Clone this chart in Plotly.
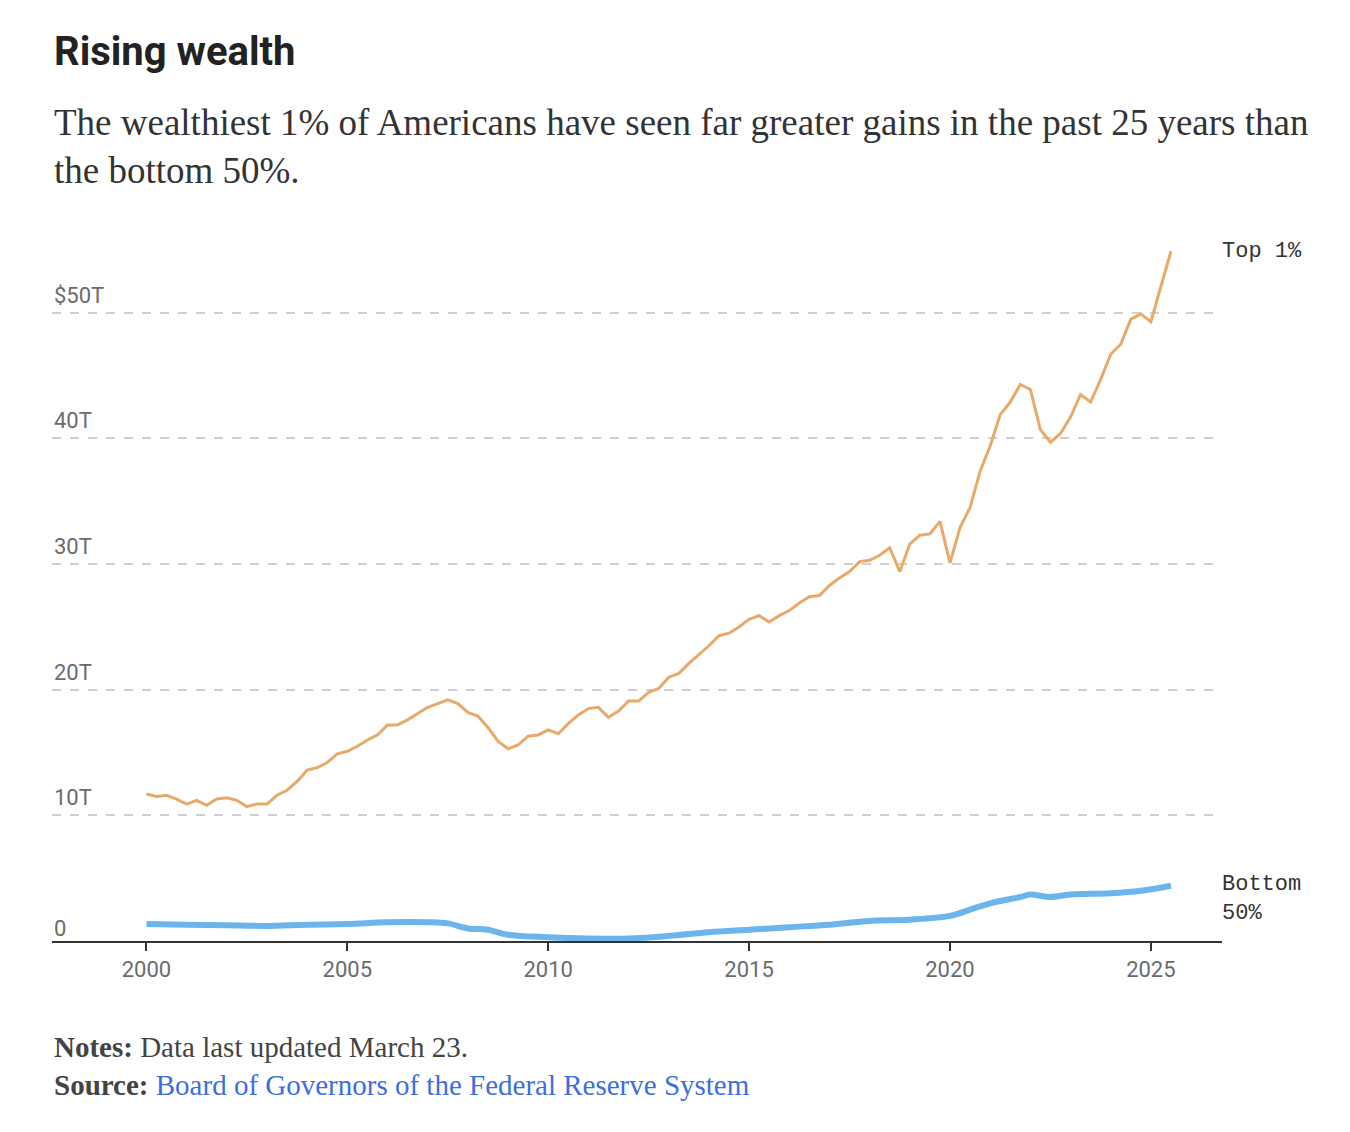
import plotly.graph_objects as go

# Top 1% net worth, trillions of dollars, quarterly 2000 Q1 - 2025 Q3
top_years = [2000 + i * 0.25 for i in range(103)]
top_values = [
    11.7, 11.5, 11.6, 11.3, 10.9, 11.2, 10.8, 11.3, 11.4, 11.2, 10.7, 10.9,
    10.9, 11.6, 12.0, 12.7, 13.6, 13.8, 14.2, 14.9, 15.1, 15.5, 16.0, 16.4,
    17.2, 17.2, 17.6, 18.1, 18.6, 18.9, 19.2, 18.9, 18.2, 17.9, 17.0, 15.9,
    15.3, 15.6, 16.3, 16.4, 16.8, 16.5, 17.3, 18.0, 18.5, 18.6, 17.8, 18.3,
    19.1, 19.1, 19.8, 20.1, 21.0, 21.3, 22.1, 22.8, 23.5, 24.3, 24.5, 25.0,
    25.6, 25.9, 25.4, 25.9, 26.3, 26.9, 27.4, 27.5, 28.3, 28.9, 29.4, 30.2,
    30.3, 30.7, 31.3, 29.4, 31.6, 32.3, 32.4, 33.4, 30.1, 32.9, 34.5, 37.4,
    39.4, 41.9, 42.9, 44.3, 43.9, 40.7, 39.7, 40.4, 41.7, 43.5, 42.9, 44.7,
    46.7, 47.5, 49.5, 49.9, 49.3, 52.1, 54.9,
]

# Bottom 50% net worth, trillions of dollars
bottom_years = [2000, 2001, 2002, 2003, 2004, 2005, 2006, 2007, 2007.5, 2008, 2008.5,
                2009, 2010, 2011, 2012, 2013, 2014, 2015, 2016, 2017, 2018, 2019,
                2020, 2020.5, 2021, 2021.75, 2022, 2022.5, 2023, 2024, 2024.75, 2025.5]
bottom_values = [1.35, 1.3, 1.25, 1.2, 1.3, 1.35, 1.5, 1.5, 1.4, 1.0, 0.9,
                 0.5, 0.3, 0.2, 0.2, 0.4, 0.7, 0.9, 1.1, 1.3, 1.6, 1.7,
                 2.0, 2.5, 3.0, 3.5, 3.7, 3.5, 3.7, 3.8, 4.0, 4.4]

y_ticks = [10, 20, 30, 40, 50]
y_tick_labels = ["10T", "20T", "30T", "40T", "$50T"]
x_ticks = [2000, 2005, 2010, 2015, 2020, 2025]

orange = "#e8a96a"
blue = "#6cb4ec"
grey = "#6b6b6b"

fig = go.Figure()
fig.add_trace(go.Scatter(x=top_years, y=top_values, mode="lines",
                         line=dict(color=orange, width=3), hoverinfo="x+y"))
fig.add_trace(go.Scatter(x=bottom_years, y=bottom_values, mode="lines",
                         line=dict(color=blue, width=6, shape="spline"), hoverinfo="x+y"))

ann = []
for v, t in zip(y_ticks + [0], y_tick_labels + ["0"]):
    ann.append(dict(x=0, xref="paper", y=v, yref="y", text=t, showarrow=False,
                    xanchor="left", yanchor="bottom", yshift=3 if v else -2,
                    font=dict(family="Roboto, Arial", size=22, color=grey)))

ann.append(dict(x=1, xref="paper", y=top_values[-1], yref="y", text="Top 1%",
                showarrow=False, xanchor="left", xshift=-2, yanchor="middle", align="left",
                font=dict(family="Liberation Mono, monospace", size=22, color="#333")))
ann.append(dict(x=1, xref="paper", y=bottom_values[-1], yref="y", text="Bottom<br>50%",
                showarrow=False, xanchor="left", xshift=-2, yanchor="top", yshift=16, align="left",
                font=dict(family="Liberation Mono, monospace", size=22, color="#333")))

ann.append(dict(x=0, xref="paper", y=1, yref="paper", yshift=168, text="<b>Rising wealth</b>",
                showarrow=False, xanchor="left", yanchor="bottom",
                font=dict(family="Roboto, Arial", size=40, color="#222")))
ann.append(dict(x=0, xref="paper", y=1, yref="paper", yshift=52,
                text="The wealthiest 1% of Americans have seen far greater gains in the past 25 years than<br>the bottom 50%.",
                showarrow=False, xanchor="left", yanchor="bottom", align="left",
                font=dict(family="Liberation Serif, serif", size=37, color="#333")))
ann.append(dict(x=0, xref="paper", y=0, yref="paper", yshift=-88,
                text="<b>Notes:</b> Data last updated March 23.<br><b>Source:</b> <span style='color:#3b6fe0'>Board of Governors of the Federal Reserve System</span>",
                showarrow=False, xanchor="left", yanchor="top", align="left",
                font=dict(family="Liberation Serif, serif", size=29, color="#444")))

fig.update_layout(
    width=1350, height=1132,
    margin=dict(l=44, r=136, t=237, b=199),
    paper_bgcolor="white", plot_bgcolor="white",
    showlegend=False,
    annotations=ann,
    xaxis=dict(range=[1997.65, 2026.77], tickvals=x_ticks, showgrid=False,
               showline=True, linecolor="#333", linewidth=2, ticks="outside",
               ticklen=8, tickcolor="#333", tickwidth=2,
               tickfont=dict(family="Roboto, Arial", size=22, color=grey), zeroline=False),
    yaxis=dict(range=[0, 55.4], tickvals=y_ticks, showticklabels=False,
               gridcolor="#cfcfcf", griddash="dash", gridwidth=2, zeroline=False),
)

fig.write_html("out.html")
